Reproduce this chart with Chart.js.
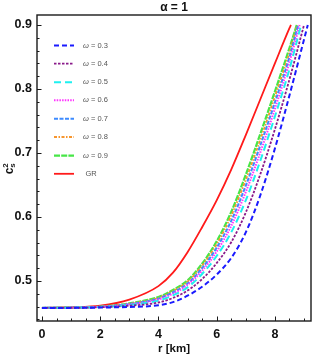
<!DOCTYPE html>
<html>
<head>
<meta charset="utf-8">
<script src="https://cdn.jsdelivr.net/npm/chart.js@4"></script>
<style>
  html, body { margin: 0; padding: 0; background: #fff; }
  canvas { display: block; }
</style>
</head>
<body>
<canvas id="chart" width="313" height="357"></canvas>
<script>
// r grid (km) shared by every curve, then each curve ends where c_s^2 hits 0.9
const r = [0, 1, 2, 3, 4, 4.5, 5, 5.5, 6, 6.5, 7, 7.5, 8, 8.5];

const w03 = [0.458, 0.458, 0.4585, 0.4595, 0.462, 0.467, 0.477, 0.491, 0.510, 0.536, 0.576, 0.634, 0.707, 0.790];
const w04 = [0.458, 0.458, 0.459, 0.4614, 0.4664, 0.4735, 0.485, 0.503, 0.528, 0.5605, 0.607, 0.667, 0.737, 0.815];
const w05 = [0.458, 0.4583, 0.4593, 0.4626, 0.4693, 0.4776, 0.490, 0.511, 0.539, 0.576, 0.626, 0.688, 0.757, 0.831];
const w06 = [0.458, 0.4584, 0.4596, 0.4634, 0.4711, 0.4803, 0.494, 0.516, 0.546, 0.586, 0.639, 0.701, 0.769, 0.842];
const w07 = [0.458, 0.4584, 0.4597, 0.464, 0.4725, 0.4824, 0.496, 0.520, 0.552, 0.594, 0.649, 0.712, 0.779, 0.850];
const w08 = [0.458, 0.4585, 0.4599, 0.4645, 0.4738, 0.4843, 0.499, 0.524, 0.557, 0.602, 0.658, 0.721, 0.788, 0.857];
const w09 = [0.458, 0.4585, 0.460, 0.465, 0.475, 0.486, 0.501, 0.527, 0.562, 0.608, 0.666, 0.730, 0.796, 0.864];
const gr  = [0.458, 0.459, 0.4615, 0.471, 0.492, 0.513, 0.545, 0.584, 0.626, 0.674, 0.728, 0.784, 0.840, 0.895];

// end radius of each curve (value 0.9 there)
const rEnd = [9.13, 9.0, 8.9, 8.85, 8.8, 8.77, 8.75, 8.55];
const yEnd = 0.9;

const labels = ['0.3', '0.4', '0.5', '0.6', '0.7', '0.8', '0.9', 'GR'];
const xTicks = [0, 2, 4, 6, 8];
const yTicks = [0.5, 0.6, 0.7, 0.8, 0.9];

const series = [w03, w04, w05, w06, w07, w08, w09, gr];
const colors = ['#1a1aff', '#8a1a8a', '#1ef0f0', '#ff33ff', '#3d8bff', '#f7962e', '#47e647', '#ff1a1a'];
const dashes = [[5, 3], [2.5, 1.5], [7, 4], [1.5, 1.2], [4, 1.5], [3, 1.5, 1.5, 1.5], [6, 1.2], []];
const widths = [2, 1.8, 2, 2, 2, 1.8, 2.2, 1.8];

const datasets = series.map((ys, i) => {
  const pts = r.map((x, j) => ({x: x, y: ys[j]}));
  pts.push({x: rEnd[i], y: yEnd});
  return {
    label: labels[i],
    data: pts,
    borderColor: colors[i],
    borderDash: dashes[i],
    borderWidth: widths[i],
    pointRadius: 0,
    fill: false,
    cubicInterpolationMode: 'monotone'
  };
});

const FONT = '"Liberation Sans", Arial, sans-serif';

const decor = {
  id: 'decor',
  afterDraw(chart) {
    const ctx = chart.ctx;
    const a = chart.chartArea;
    const xs = chart.scales.x, ys = chart.scales.y;
    ctx.save();

    // frame
    ctx.strokeStyle = '#1a1a1a';
    ctx.lineWidth = 1.4;
    ctx.strokeRect(a.left, a.top, a.right - a.left, a.bottom - a.top);

    // ticks inside the frame
    ctx.lineWidth = 1;
    ctx.beginPath();
    for (let v = 0; v <= 9.01; v += 0.5) {
      const px = Math.round(xs.getPixelForValue(v)) + 0.5;
      const len = (Math.abs(v / 2 - Math.round(v / 2)) < 1e-6) ? 4.5 : 2.5;
      ctx.moveTo(px, a.bottom);
      ctx.lineTo(px, a.bottom - len);
    }
    for (let k = 22; k <= 45; k++) {
      const v = k * 0.02;
      const py = Math.round(ys.getPixelForValue(v)) + 0.5;
      const len = (k % 5 === 0) ? 4.5 : 2.5;
      ctx.moveTo(a.left, py);
      ctx.lineTo(a.left + len, py);
    }
    ctx.stroke();

    // title
    ctx.fillStyle = '#111';
    ctx.textAlign = 'center';
    ctx.textBaseline = 'middle';
    ctx.font = 'bold 12px ' + FONT;
    ctx.fillText('\u03b1 = 1', (a.left + a.right) / 2, 8);

    // x axis title
    ctx.font = 'bold 11.5px ' + FONT;
    ctx.fillText('r [km]', (a.left + a.right) / 2, 349);

    // y axis title c_s^2
    ctx.save();
    ctx.translate(10, (a.top + a.bottom) / 2);
    ctx.rotate(-Math.PI / 2);
    ctx.textAlign = 'left';
    ctx.font = 'bold 12px ' + FONT;
    const cw = ctx.measureText('c').width;
    const x0 = -(cw + 6) / 2;
    ctx.fillText('c', x0, 0);
    ctx.font = 'bold 8px ' + FONT;
    ctx.fillText('s', x0 + cw, 3);
    ctx.fillText('2', x0 + cw, -4);
    ctx.restore();

    // legend
    const rowY = [45.5, 63.7, 82.3, 100.3, 118.8, 137, 155.6, 173.8];
    chart.data.datasets.forEach((ds, i) => {
      const y = rowY[i];
      ctx.beginPath();
      ctx.strokeStyle = ds.borderColor;
      ctx.lineWidth = ds.borderWidth;
      ctx.setLineDash(ds.borderDash);
      ctx.moveTo(54, y);
      ctx.lineTo(74, y);
      ctx.stroke();
      ctx.setLineDash([]);
      ctx.fillStyle = '#555';
      ctx.textAlign = 'left';
      ctx.textBaseline = 'middle';
      if (ds.label === 'GR') {
        ctx.font = '7.5px ' + FONT;
        ctx.fillText('GR', 85.5, y);
      } else {
        ctx.font = 'italic 7.5px ' + FONT;
        ctx.fillText('\u03c9', 83, y);
        const w = ctx.measureText('\u03c9').width;
        ctx.font = '7.5px ' + FONT;
        ctx.fillText(' = ' + ds.label, 83 + w, y);
      }
    });
    ctx.restore();
  }
};

new Chart(document.getElementById('chart'), {
  type: 'line',
  data: { datasets: datasets },
  options: {
    responsive: false,
    devicePixelRatio: 1,
    animation: false,
    layout: { padding: { top: 15, right: 2, left: 0, bottom: 0 } },
    plugins: { legend: { display: false }, tooltip: { enabled: false } },
    scales: {
      x: {
        type: 'linear',
        min: -0.17,
        max: 9.24,
        afterBuildTicks: s => { s.ticks = xTicks.map(v => ({value: v})); },
        afterFit: s => { s.height = 36; },
        grid: { display: false, drawTicks: false },
        border: { display: false },
        ticks: {
          padding: 6,
          color: '#111',
          font: { family: FONT, size: 12.5, weight: 'bold' },
          maxRotation: 0
        }
      },
      y: {
        type: 'linear',
        min: 0.4375,
        max: 0.9156,
        afterBuildTicks: s => { s.ticks = yTicks.map(v => ({value: v})); },
        afterFit: s => { s.width = 37; },
        grid: { display: false, drawTicks: false },
        border: { display: false },
        ticks: {
          padding: 5,
          color: '#111',
          font: { family: FONT, size: 12.5, weight: 'bold' },
          callback: v => v.toFixed(1)
        }
      }
    }
  },
  plugins: [decor]
});
</script>
</body>
</html>
